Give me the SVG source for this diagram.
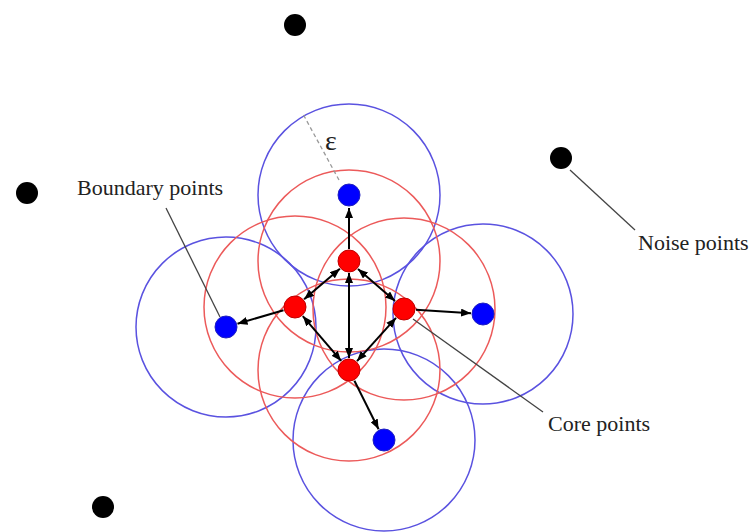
<svg xmlns="http://www.w3.org/2000/svg" width="755" height="532" viewBox="0 0 755 532">
<style>
.bc{fill:none;stroke:#5a52e0;stroke-width:1.5}
.rc{fill:none;stroke:#ec5a5a;stroke-width:1.5}
.core{fill:#ff0000;stroke:#c00000;stroke-width:1}
.bnd{fill:#0000ff;stroke:#2020c0;stroke-width:1}
.noise{fill:#000000}
.arr{stroke:#000;stroke-width:2;fill:none;marker-end:url(#ah)}
.darr{stroke:#000;stroke-width:2;fill:none;marker-end:url(#ah);marker-start:url(#ah)}
.lead{stroke:#444;stroke-width:1.3;fill:none}
.lbl{font-family:"Liberation Serif","Times New Roman",serif;font-size:22px;fill:#222}
</style>
<defs>
<marker id="ah" viewBox="0 0 10 8" refX="10" refY="4" markerWidth="10" markerHeight="8" markerUnits="userSpaceOnUse" orient="auto-start-reverse">
<path d="M0,0 L10,4 L0,8 z" fill="#000"/>
</marker>
</defs>
<g id="circles">
<circle class="bc" cx="349" cy="195" r="91"/>
<circle class="bc" cx="226" cy="327" r="90"/>
<circle class="bc" cx="483" cy="314" r="90"/>
<circle class="bc" cx="384" cy="440" r="91"/>
<circle class="rc" cx="349" cy="261" r="91"/>
<circle class="rc" cx="295" cy="307" r="91"/>
<circle class="rc" cx="404" cy="309" r="91"/>
<circle class="rc" cx="349" cy="370" r="91"/>
</g>
<g id="epsilon">
<line x1="339" y1="180" x2="303" y2="114" stroke="#999" stroke-width="1.3" stroke-dasharray="4,3"/>
<text x="325" y="150" style="font-family:'Liberation Serif',serif;font-size:28px;fill:#222">ε</text>
</g>
<g id="connectors">
<line class="arr" x1="349" y1="249" x2="349" y2="208"/>
<line class="darr" x1="339.9" y1="268.8" x2="304.1" y2="299.2"/>
<line class="darr" x1="358" y1="268.9" x2="395" y2="301.1"/>
<line class="darr" x1="349" y1="273" x2="349" y2="358"/>
<line class="darr" x1="302.8" y1="316.1" x2="341.2" y2="360.9"/>
<line class="darr" x1="396" y1="317.9" x2="357" y2="361.1"/>
<line class="arr" x1="283.5" y1="310.3" x2="237.5" y2="323.7"/>
<line class="arr" x1="416" y1="309.8" x2="471" y2="313.2"/>
<line class="arr" x1="354.4" y1="380.7" x2="378.6" y2="429.3"/>
<line class="lead" x1="166" y1="208" x2="220" y2="317"/>
<line class="lead" x1="570" y1="170" x2="635" y2="230"/>
<line class="lead" x1="413" y1="319" x2="543" y2="412"/>
</g>
<g id="core-top"><circle class="core" cx="349" cy="261" r="11"/></g>
<g id="core-left"><circle class="core" cx="295" cy="307" r="11"/></g>
<g id="core-right"><circle class="core" cx="404" cy="309" r="11"/></g>
<g id="core-bottom"><circle class="core" cx="349" cy="370" r="11"/></g>
<g id="boundary-top"><circle class="bnd" cx="349" cy="195" r="11"/></g>
<g id="boundary-left"><circle class="bnd" cx="226" cy="327" r="11"/></g>
<g id="boundary-right"><circle class="bnd" cx="483" cy="314" r="11"/></g>
<g id="boundary-bottom"><circle class="bnd" cx="384" cy="440" r="11"/></g>
<g id="noise-1"><circle class="noise" cx="295" cy="25" r="11"/></g>
<g id="noise-2"><circle class="noise" cx="27" cy="193" r="11"/></g>
<g id="noise-3"><circle class="noise" cx="561" cy="158" r="11"/></g>
<g id="noise-4"><circle class="noise" cx="103" cy="507" r="11"/></g>
<g id="labels">
<text class="lbl" x="77" y="195">Boundary points</text>
<text class="lbl" x="638" y="250">Noise points</text>
<text class="lbl" x="548" y="431">Core points</text>
</g>
</svg>
